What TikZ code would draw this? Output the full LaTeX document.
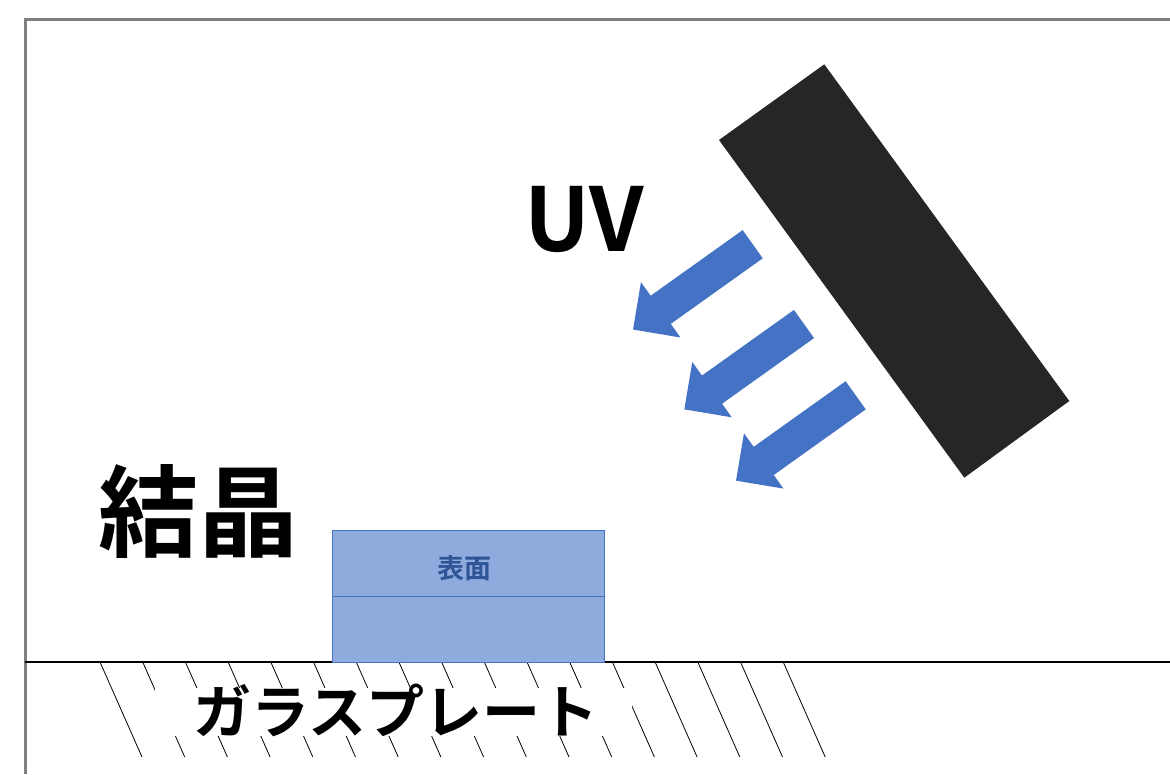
\documentclass[tikz,border=0pt]{standalone}
\usepackage{fontspec}
\newfontfamily\cjk{Noto Sans CJK JP}[BoldFont={Noto Sans CJK JP Bold}]
\definecolor{uvblue}{HTML}{4472C4}
\definecolor{boxfill}{HTML}{8FAADC}
\definecolor{txtblue}{HTML}{2F5597}
\definecolor{lampdark}{HTML}{262626}
\definecolor{framegray}{HTML}{808080}
\tikzset{
  frameline/.style={draw=framegray, line width=3pt},
  hatchline/.style={draw=black, line width=0.8pt},
  groundline/.style={draw=black, line width=1.3pt},
  layer/.style={draw=uvblue, fill=boxfill, line width=1pt, minimum width=272pt, minimum height=66pt, inner sep=0pt},
  bigtext/.style={inner sep=0pt, font=\cjk\bfseries},
  uvarrow/.pic={\fill[uvblue] (0,-17.3) -- (113,-17.3) -- (113,-34) -- (147,0) -- (113,34) -- (113,17.3) -- (0,17.3) -- cycle;}
}
\begin{document}
\begin{tikzpicture}[x=1pt,y=-1pt]
\useasboundingbox (0,0) rectangle (1170,774);
% frame
\draw[frameline] (25,774) -- (25,19) -- (1170,19);
% hatching of the glass plate
\foreach \k in {0,...,16}
  \draw[hatchline] ({100+42.7*\k},662) -- ++(42,95);
% label of the glass plate
\fill[white] (155,688) rectangle (632,736);
\node[bigtext, font=\cjk\bfseries\fontsize{58}{60}\selectfont] (glass) at (396,710) {ガラスプレート};
% ground line
\draw[groundline] (25,662) -- (1170,662);
% crystal
\node[layer] (surface) at (468,563) {};
\node[layer] (body) at (468,629) {};
\node[inner sep=0pt, text=txtblue, font=\cjk\bfseries\fontsize{27}{30}\selectfont] (surftext) at (464,568) {表面};
\node[bigtext, font=\cjk\bfseries\fontsize{100}{110}\selectfont] (crystal) at (198,511) {結晶};
% lamp
\fill[lampdark] (824.3,64.3) -- (1069.3,401) -- (964.3,477.7) -- (719,140) -- cycle;
\node[bigtext, font=\cjk\bfseries\fontsize{88}{95}\selectfont] (uv) at (584,220) {UV};
% UV arrows
\pic[rotate=215.5] at (752.7,244.2) {uvarrow};
\pic[rotate=215.5] at (804,324) {uvarrow};
\pic[rotate=215.5] at (855.7,395.3) {uvarrow};
\end{tikzpicture}
\end{document}
